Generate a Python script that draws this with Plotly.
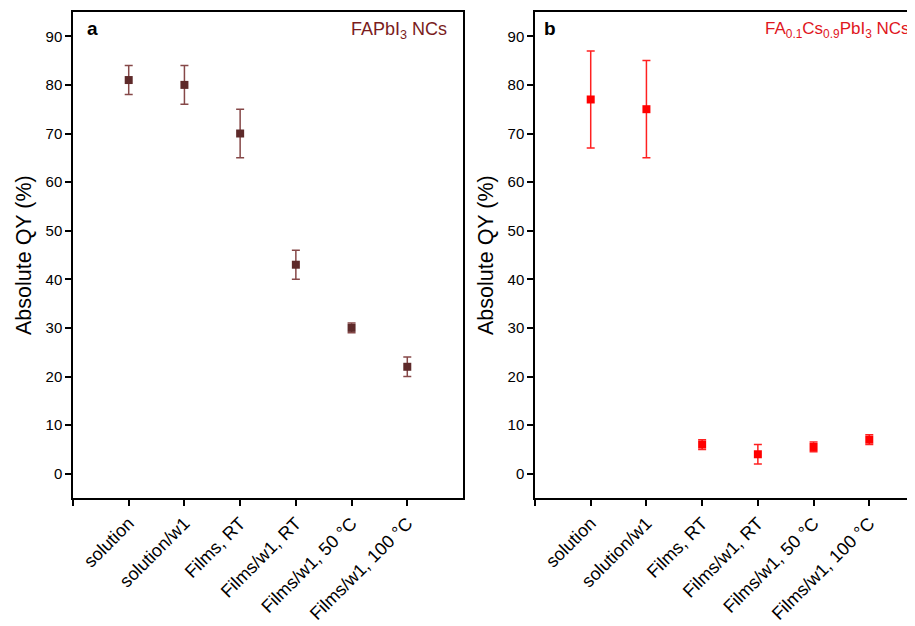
import plotly.graph_objects as go

categories = ["solution", "solution/w1", "Films, RT", "Films/w1, RT", "Films/w1, 50 °C", "Films/w1, 100 °C"]
positions = [1, 2, 3, 4, 5, 6]

qy_a = [81, 80, 70, 43, 30, 22]
err_a = [3, 4, 5, 3, 1, 2]

qy_b = [77, 75, 6, 4, 5.5, 7]
err_b = [10, 10, 1, 2, 1, 1]

y_ticks = [0, 10, 20, 30, 40, 50, 60, 70, 80, 90]

# page body has an 8px default margin; work in page pixels and convert
OFF = 8
W, H = 915 - OFF, 626 - OFF
FONT = "Liberation Sans, Arial, sans-serif"


def px(x):
    return (x - OFF) / W


def py(y):
    return 1 - (y - OFF) / H


fig = go.Figure()

fig.add_trace(go.Scatter(
    x=positions, y=qy_a, mode="markers", xaxis="x", yaxis="y",
    marker=dict(symbol="square", size=8, color="#5e2a2a"),
    error_y=dict(type="data", array=err_a, visible=True, color="#864848", thickness=1.5, width=4),
    showlegend=False,
))
fig.add_trace(go.Scatter(
    x=positions, y=qy_b, mode="markers", xaxis="x2", yaxis="y2",
    marker=dict(symbol="square", size=8, color="#ff0000"),
    error_y=dict(type="data", array=err_b, visible=True, color="#ff2020", thickness=1.5, width=4),
    showlegend=False,
))

ytop = py(12)
ybot = py(498)

common_x = dict(
    tickmode="array", ticks="outside", ticklen=6, tickwidth=1.5, tickcolor="black",
    showline=True, linecolor="black", linewidth=1.5, mirror=True,
    showgrid=False, zeroline=False, tickangle=-45, automargin=False,
    tickfont=dict(family=FONT, size=18, color="black"),
)
common_y = dict(
    range=[-5, 95], tickvals=y_ticks, ticks="outside", ticklen=6, tickwidth=1.5, tickcolor="black",
    showline=True, linecolor="black", linewidth=1.5, automargin=False,
    showgrid=False, zeroline=False,
    tickfont=dict(family=FONT, size=15, color="black"),
)

tickvals_x = [0] + positions
ticktext_x = [""] + categories
unit = (463 - 73) / 7.0

fig.update_layout(
    width=W, height=H,
    margin=dict(l=0, r=0, t=0, b=0),
    paper_bgcolor="white", plot_bgcolor="white",
    font=dict(family=FONT, color="black"),
    xaxis=dict(domain=[px(73), px(463)], range=[0, 7], tickvals=tickvals_x, ticktext=ticktext_x,
               anchor="y", **common_x),
    yaxis=dict(domain=[ybot, ytop], anchor="x", mirror=True, **common_y),
    xaxis2=dict(domain=[px(535), 1.0], range=[0, (915 - 535) / unit], tickvals=tickvals_x,
                ticktext=ticktext_x, anchor="y2", **common_x),
    yaxis2=dict(domain=[ybot, ytop], anchor="x2", mirror=False, **common_y),
    annotations=[
        dict(text="Absolute QY (%)", x=px(24), y=py(255), xref="paper", yref="paper",
             textangle=-90, showarrow=False, font=dict(family=FONT, size=21.5, color="black"),
             xanchor="center", yanchor="middle"),
        dict(text="Absolute QY (%)", x=px(486), y=py(255), xref="paper", yref="paper",
             textangle=-90, showarrow=False, font=dict(family=FONT, size=21.5, color="black"),
             xanchor="center", yanchor="middle"),
        dict(text="<b>a</b>", x=px(85), y=py(29), xref="paper", yref="paper", showarrow=False,
             xanchor="left", yanchor="middle", font=dict(family=FONT, size=19, color="black")),
        dict(text="<b>b</b>", x=px(542), y=py(29), xref="paper", yref="paper", showarrow=False,
             xanchor="left", yanchor="middle", font=dict(family=FONT, size=19, color="black")),
        dict(text="FAPbI<sub>3</sub> NCs", x=px(449), y=py(30), xref="paper", yref="paper",
             showarrow=False, xanchor="right", yanchor="middle",
             font=dict(family=FONT, size=18, color="#7a1c1c")),
        dict(text="FA<sub>0.1</sub>Cs<sub>0.9</sub>PbI<sub>3</sub> NCs", x=px(763), y=py(30),
             xref="paper", yref="paper", showarrow=False, xanchor="left", yanchor="middle",
             font=dict(family=FONT, size=17, color="#e0161d")),
    ],
)

fig.write_html("out.html")
